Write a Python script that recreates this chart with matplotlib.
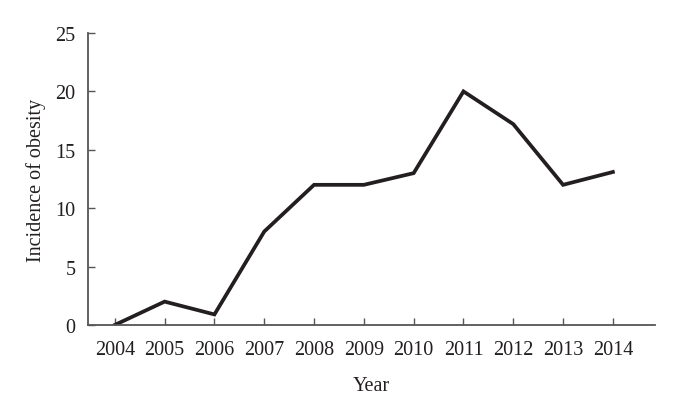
import matplotlib.pyplot as plt

plt.rcParams['font.family'] = ['Liberation Serif', 'DejaVu Serif']

years = [2004, 2005, 2006, 2007, 2008, 2009, 2010, 2011, 2012, 2013, 2014]
incidence = [0, 2, 0.9, 8, 12, 12, 13, 20, 17.2, 12, 13.1]
y_ticks = [0, 5, 10, 15, 20, 25]

AXIS_COLOR = '#555555'
LINE_COLOR = '#231f20'

fig = plt.figure(figsize=(6.87, 4.10), dpi=100, facecolor='w')
ax = fig.add_axes([0.128, 0.205, 0.825, 0.712])

ax.plot(years, incidence, color=LINE_COLOR, linewidth=2.7, solid_joinstyle='miter')

ax.set_xlim(2003.46, 2014.84)
ax.set_ylim(0, 25)
ax.set_xticks(years)
ax.set_yticks(y_ticks)

for side in ['top', 'right']:
    ax.spines[side].set_visible(False)
for side in ['left', 'bottom']:
    ax.spines[side].set_color(AXIS_COLOR)
    ax.spines[side].set_linewidth(1.3)

ax.tick_params(direction='in', length=5, width=1, color=AXIS_COLOR,
               labelsize=14.5, labelcolor='#231f20')
ax.tick_params(axis='x', pad=11)
ax.tick_params(axis='y', pad=9)

ax.set_xlabel('Year', fontsize=14.5, color='#231f20', labelpad=12)
ax.set_ylabel('Incidence of obesity', fontsize=14.5, color='#231f20', labelpad=7)

fig.savefig('out.png', dpi=100, facecolor='w')
